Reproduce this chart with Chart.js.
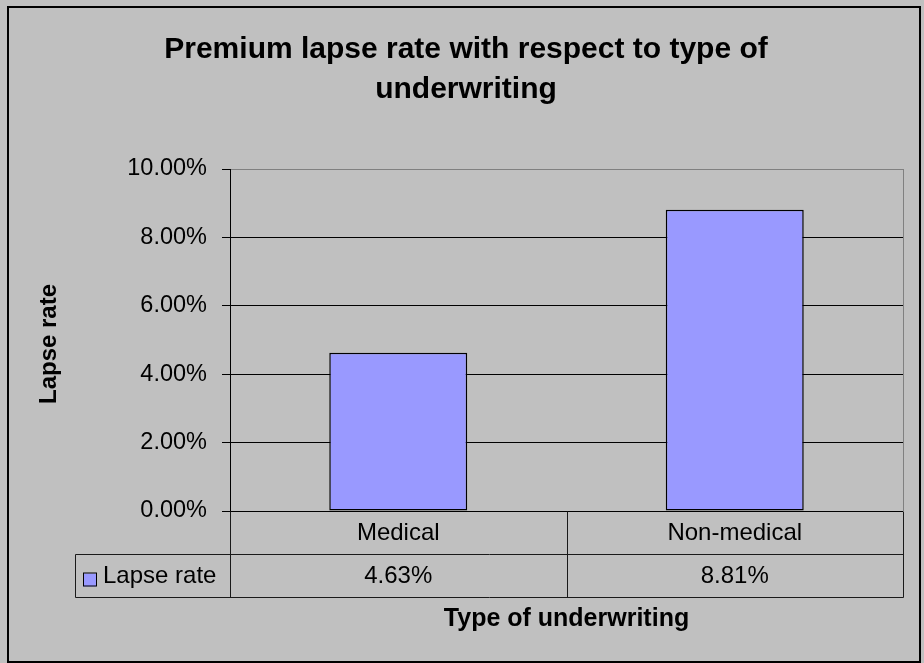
<!DOCTYPE html>
<html>
<head>
<meta charset="utf-8">
<title>Premium lapse rate with respect to type of underwriting</title>
<script src="https://cdn.jsdelivr.net/npm/chart.js@4/dist/chart.umd.min.js"></script>
<style>
  html, body { margin: 0; padding: 0; background: #c0c0c0; }
  canvas { display: block; }
</style>
</head>
<body>
<canvas id="chart" width="924" height="663"></canvas>
<script>
// Chart data
const categories = ['Medical', 'Non-medical'];
const lapseRate = [4.63, 8.81];          // percent
const seriesName = 'Lapse rate';
const yTicks = [0, 2, 4, 6, 8, 10];       // percent
const titleLines = ['Premium lapse rate with respect to type of', 'underwriting'];
const xTitle = 'Type of underwriting';
const yTitle = 'Lapse rate';

const FONT = '"Liberation Sans", Arial, sans-serif';
const BAR_FILL = '#9999ff';
const fmtPct = v => v.toFixed(2) + '%';

// Frame, titles and the data table under the plot
const decorations = {
  id: 'decorations',
  beforeDraw(chart) {
    const ctx = chart.ctx;
    ctx.save();
    ctx.fillStyle = '#c0c0c0';
    ctx.fillRect(0, 0, chart.width, chart.height);
    ctx.restore();
  },
  afterDraw(chart) {
    const ctx = chart.ctx;
    const area = chart.chartArea;
    const xs = chart.scales.x;
    ctx.save();

    // outer frame
    ctx.strokeStyle = '#000';
    ctx.lineWidth = 2;
    ctx.strokeRect(8, 7, 912, 655);

    // right edge of the plot area
    ctx.strokeStyle = '#808080';
    ctx.lineWidth = 1;
    ctx.beginPath();
    ctx.moveTo(Math.round(area.right) + 0.5, area.top);
    ctx.lineTo(Math.round(area.right) + 0.5, area.bottom);
    ctx.stroke();

    // chart title
    ctx.fillStyle = '#000';
    ctx.textAlign = 'center';
    ctx.textBaseline = 'middle';
    ctx.font = 'bold 30px ' + FONT;
    titleLines.forEach((line, i) => ctx.fillText(line, 466, 50 + i * 40));

    // y axis title
    ctx.font = 'bold 24px ' + FONT;
    ctx.save();
    ctx.translate(49, 344);
    ctx.rotate(-Math.PI / 2);
    ctx.fillText(yTitle, 0, 0);
    ctx.restore();

    // data table
    const rowH = 43;
    const top = Math.round(area.bottom) + 0.5;
    const mid = top + rowH;
    const bot = mid + rowH;
    const left = Math.round(area.left) + 0.5;
    const right = Math.round(area.right) + 0.5;
    const legendLeft = 75.5;
    const bounds = [left];
    for (let i = 1; i < categories.length; i++) {
      bounds.push(Math.round((xs.getPixelForValue(i - 1) + xs.getPixelForValue(i)) / 2) + 0.5);
    }
    bounds.push(right);

    ctx.strokeStyle = '#1a1a1a';
    ctx.lineWidth = 1;
    ctx.beginPath();
    ctx.moveTo(legendLeft, mid); ctx.lineTo(right, mid);
    ctx.moveTo(legendLeft, bot); ctx.lineTo(right, bot);
    ctx.moveTo(legendLeft, mid); ctx.lineTo(legendLeft, bot);
    bounds.forEach(x => { ctx.moveTo(x, top); ctx.lineTo(x, bot); });
    ctx.stroke();

    ctx.font = '24px ' + FONT;
    ctx.textAlign = 'center';
    categories.forEach((c, i) => {
      const cx = xs.getPixelForValue(i);
      ctx.fillText(c, cx, top + rowH / 2);
      ctx.fillText(fmtPct(lapseRate[i]), cx, mid + rowH / 2);
    });

    // legend key in the table
    ctx.fillStyle = BAR_FILL;
    ctx.fillRect(83, mid + 19, 13, 13);
    ctx.strokeStyle = '#000';
    ctx.strokeRect(83.5, mid + 18.5, 13, 13);
    ctx.fillStyle = '#000';
    ctx.textAlign = 'left';
    ctx.fillText(seriesName, 103, mid + rowH / 2);

    // x axis title
    ctx.font = 'bold 25px ' + FONT;
    ctx.textAlign = 'center';
    ctx.fillText(xTitle, (area.left + area.right) / 2, 619);

    ctx.restore();
  }
};

new Chart(document.getElementById('chart'), {
  type: 'bar',
  data: {
    labels: categories,
    datasets: [{
      label: seriesName,
      data: lapseRate,
      backgroundColor: BAR_FILL,
      borderColor: '#000',
      borderWidth: 1.5,
      borderSkipped: false,
      barPercentage: 0.41,
      categoryPercentage: 1
    }]
  },
  options: {
    responsive: false,
    animation: false,
    layout: { padding: { left: 0, top: 169, right: 21, bottom: 152 } },
    plugins: {
      legend: { display: false },
      title: { display: false },
      tooltip: { enabled: false }
    },
    scales: {
      x: {
        display: false,
        grid: { display: false }
      },
      y: {
        min: 0,
        max: 10,
        afterFit(scale) { scale.width = 230; },
        afterBuildTicks(scale) { scale.ticks = yTicks.map(v => ({ value: v })); },
        border: { display: true, color: '#000', width: 1 },
        grid: {
          color: ctx => (ctx.tick && ctx.tick.value === 10 ? '#808080' : '#000'),
          lineWidth: 1,
          drawTicks: true,
          tickLength: 8,
          tickColor: '#000'
        },
        ticks: {
          padding: 15,
          color: '#000',
          font: { family: FONT, size: 23.5 },
          callback: v => fmtPct(v)
        }
      }
    }
  },
  plugins: [decorations]
});
</script>
</body>
</html>
